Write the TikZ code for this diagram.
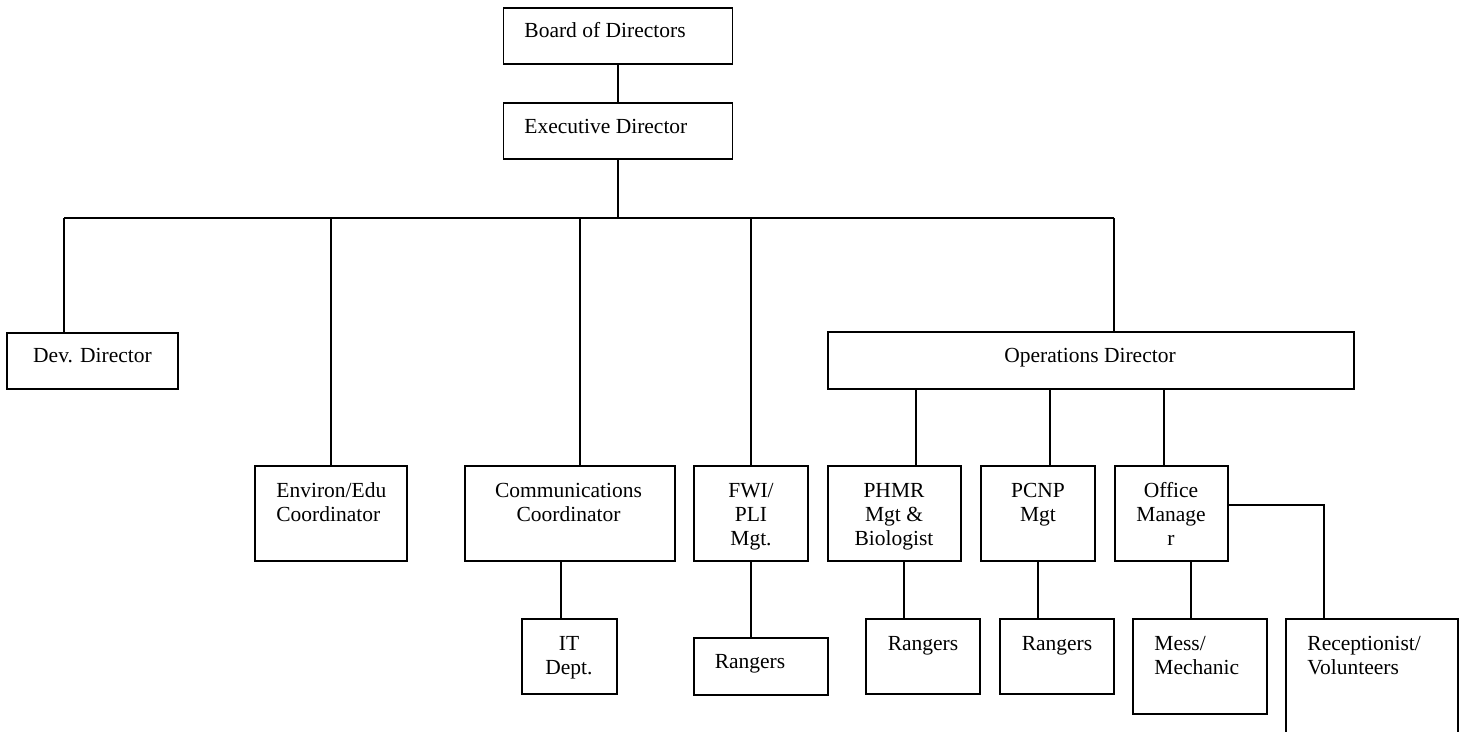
\documentclass[tikz,border=0pt]{standalone}
\usepackage{fontspec}
\setmainfont{Liberation Serif}
\usetikzlibrary{calc}
\begin{document}
\begin{tikzpicture}[x=0.5pt,y=-0.5pt,
  bx/.style={draw, line width=0.9pt, inner sep=0pt},
  tbx/.style={bx, line width=1.3pt},
  tx/.style={inner sep=0pt, align=center, anchor=base, font=\fontsize{10.75}{12}\selectfont},
  txl/.style={tx, align=left, anchor=base west},
  ln/.style={line width=0.9pt}]
\useasboundingbox (0,0) rectangle (1465,732);
\clip (0,0) rectangle (1465,732);
% boxes
\node[bx, minimum width=114.5pt, minimum height=28pt] (board) at (618,36) {};
\node[bx, minimum width=114.5pt, minimum height=28pt] (exec) at (618,131) {};
\node[bx, minimum width=85.5pt, minimum height=28pt] (dev) at (92.5,361) {};
\node[bx, minimum width=76pt, minimum height=47.5pt] (env) at (331,513.5) {};
\node[tbx, minimum width=105pt, minimum height=47.5pt] (comm) at (570,513.5) {};
\node[bx, minimum width=47.5pt, minimum height=37.5pt] (it) at (569.5,656.5) {};
\node[tbx, minimum width=57pt, minimum height=47.5pt] (fwi) at (751,513.5) {};
\node[tbx, minimum width=67pt, minimum height=28.5pt] (r1) at (761,666.5) {};
\node[bx, minimum width=263pt, minimum height=28.5pt] (ops) at (1091,360.5) {};
\node[bx, minimum width=66.5pt, minimum height=47.5pt] (phmr) at (894.5,513.5) {};
\node[bx, minimum width=57pt, minimum height=37.5pt] (r2) at (923,656.5) {};
\node[bx, minimum width=57pt, minimum height=47.5pt] (pcnp) at (1038,513.5) {};
\node[bx, minimum width=57pt, minimum height=37.5pt] (r3) at (1057,656.5) {};
\node[bx, minimum width=56.5pt, minimum height=47.5pt] (office) at (1171.5,513.5) {};
\node[bx, minimum width=67pt, minimum height=47.5pt] (mess) at (1200,666.5) {};
\node[bx, minimum width=86pt, minimum height=63pt] (recep) at (1372,682) {};
% texts (base = baseline of last line)
\node[txl] (tboard) at (524,38) {Board of Directors};
\node[txl] (texec) at (524,134) {Executive Director};
\node[tx] (tdev) at (92.5,362) {Dev. Director};
\node[txl] (tenv) at (276,521) {Environ/Edu\\Coordinator};
\node[tx] (tcomm) at (568.5,521) {Communications\\Coordinator};
\node[tx] (tit) at (569,674) {IT\\Dept.};
\node[tx] (tfwi) at (751,545) {FWI/\\PLI\\Mgt.};
\node[tx] (tr1) at (750,668) {Rangers};
\node[tx] (tops) at (1090,362) {Operations Director};
\node[tx] (tphmr) at (894,545) {PHMR\\Mgt \&\\Biologist};
\node[tx] (tr2) at (923,650) {Rangers};
\node[tx] (tpcnp) at (1038,521) {PCNP\\Mgt};
\node[tx] (tr3) at (1057,650) {Rangers};
\node[tx] (toffice) at (1171,545) {Office\\Manage\\r};
\node[txl] (tmess) at (1154,674) {Mess/\\Mechanic};
\node[txl] (trecep) at (1307,674) {Receptionist/\\Volunteers};
% connectors
\coordinate (busL) at (64,218);
\coordinate (busR) at (1114,218);
\draw[ln] (board.south) -- (exec.north);
\draw[ln] (exec.south) -- (exec.south |- busL);
\draw[ln] (busL) -- (busR);
\draw[ln] (busL) -- (busL |- dev.north);
\draw[ln] (env.north) -- (env.north |- busL);
\coordinate (kc) at ($(comm.north)+(10,0)$);
\draw[ln] (kc) -- (kc |- busL);
\draw[ln] (fwi.north) -- (fwi.north |- busL);
\draw[ln] (busR) -- (busR |- ops.north);
\coordinate (ki) at ($(comm.south)+(-9,0)$);
\draw[ln] (ki) -- (ki |- it.north);
\draw[ln] (fwi.south) -- (fwi.south |- r1.north);
\coordinate (kp1) at ($(phmr.north)+(21.5,0)$);
\draw[ln] (kp1) -- (kp1 |- ops.south);
\coordinate (kp2) at ($(pcnp.north)+(12,0)$);
\draw[ln] (kp2) -- (kp2 |- ops.south);
\coordinate (kp3) at ($(office.north)+(-7.5,0)$);
\draw[ln] (kp3) -- (kp3 |- ops.south);
\coordinate (kr2) at ($(phmr.south)+(9.5,0)$);
\draw[ln] (kr2) -- (kr2 |- r2.north);
\draw[ln] (pcnp.south) -- (pcnp.south |- r3.north);
\coordinate (km) at ($(office.south)+(19.5,0)$);
\draw[ln] (km) -- (km |- mess.north);
\coordinate (ko) at ($(office.east)+(0,-8.5)$);
\coordinate (kr) at ($(recep.north)+(-48,0)$);
\draw[ln] (ko) -| (kr);
\end{tikzpicture}
\end{document}
